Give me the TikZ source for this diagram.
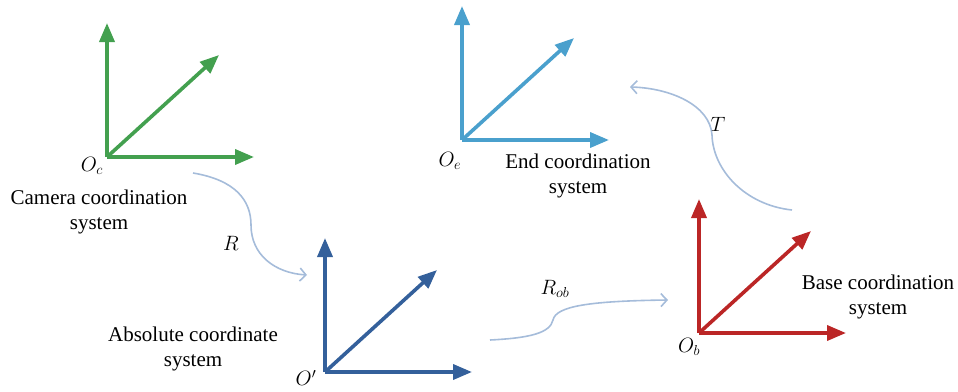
\documentclass[tikz,border=0pt]{standalone}
\usepackage{fontspec}
\setmainfont{Liberation Serif}
\usepackage{tikz}
\usetikzlibrary{arrows.meta,positioning,calc}
\definecolor{camgreen}{RGB}{67,160,79}
\definecolor{endblue}{RGB}{74,160,205}
\definecolor{absblue}{RGB}{52,96,155}
\definecolor{basered}{RGB}{187,38,38}
\definecolor{linkblue}{RGB}{165,188,218}

\tikzset{
  axis/.style={line width=3.6pt, -{Triangle[length=19pt,width=15pt]}},
  link/.style={draw=linkblue, line width=1.6pt, -{Straight Barb[length=6pt,width=13pt]}},
  lbl/.style={font=\fontsize{21}{25}\selectfont, align=center, inner sep=0pt},
}

\begin{document}
\begin{tikzpicture}[x=1pt, y=-1pt]
\useasboundingbox (0,0) rectangle (958,391);
% the four frames
\foreach \n/\x/\y/\c in {cam/107/157/camgreen, end/462/140/endblue, abs/325/372/absblue, base/699/333/basered} {
  \coordinate (\n) at (\x,\y);
  \draw[axis, draw=\c, fill=\c] (\n) -- ++(0,-134);
  \draw[axis, draw=\c, fill=\c] (\n) -- ++(147,0);
  \draw[axis, draw=\c, fill=\c] (\n) -- ++(112,-102);
}
\node[lbl] (cam-o) at (92,166) {$O_{c}$};
\node[lbl] (cam-txt) at (99,212) {Camera coordination\\system};
\node[lbl] (end-o) at (450,161) {$O_{e}$};
\node[lbl] (end-txt) at (578,176) {End coordination\\system};
\node[lbl] (abs-o) at (306,378) {$O'$};
\node[lbl] (abs-txt) at (193,349) {Absolute coordinate\\system};
\node[lbl] (base-o) at (689,347) {$O_{b}$};
\node[lbl] (base-txt) at (878,297) {Base coordination\\system};
% transforms
\coordinate (r-s) at (193,173);   \coordinate (r-e) at (307,275);
\coordinate (rob-s) at (490,340); \coordinate (rob-e) at (668,300);
\coordinate (t-s) at (792,210);   \coordinate (t-e) at (630,87);
\draw[link] (r-s) .. controls (235,180) and (251,200) .. (251,225)
            .. controls (251,255) and (275,273) .. (r-e);
\draw[link] (rob-s) .. controls (530,338) and (550,333) .. (553,320)
            .. controls (556,306) and (590,301) .. (rob-e);
\draw[link] (t-s) .. controls (745,205) and (713,170) .. (712,135)
            .. controls (710,105) and (670,88) .. (t-e);
\node[lbl] (r-lbl) at (231,243) {$R$};
\node[lbl] (rob-lbl) at (555,289) {$R_{ob}$};
\node[lbl] (t-lbl) at (718,124) {$T$};
\end{tikzpicture}
\end{document}
